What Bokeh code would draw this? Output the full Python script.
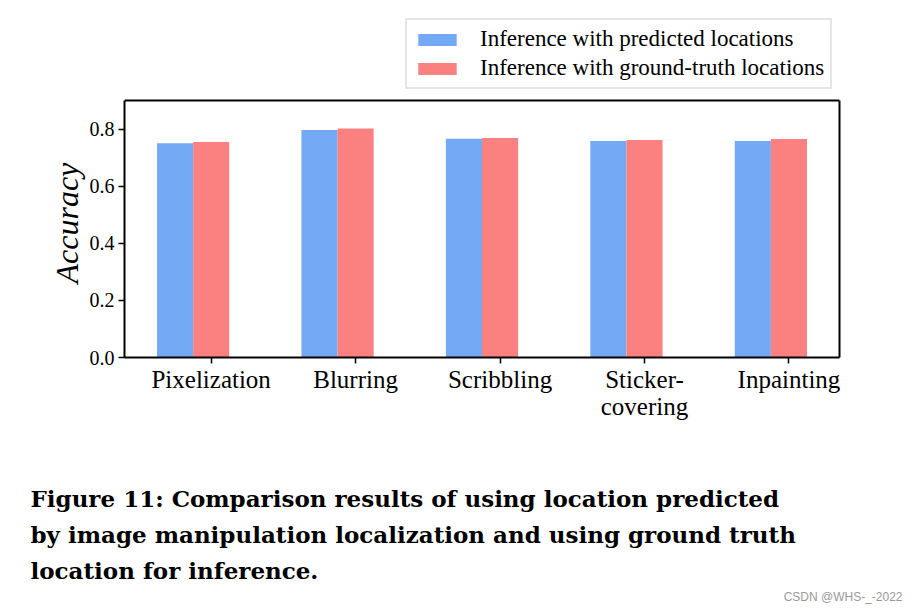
from bokeh.plotting import figure
from bokeh.models import (ColumnDataSource, Legend, LegendItem, FixedTicker, Range1d,
                          Title, LinearAxis, Span)
from bokeh.embed import file_html
from bokeh.resources import INLINE

categories = ["Pixelization", "Blurring", "Scribbling", "Sticker-\ncovering", "Inpainting"]
predicted = [0.750, 0.797, 0.766, 0.758, 0.758]
ground_truth = [0.755, 0.802, 0.769, 0.762, 0.765]
series_names = ["Inference with predicted locations", "Inference with ground-truth locations"]
y_ticks = [0.0, 0.2, 0.4, 0.6, 0.8]
y_label = "Accuracy"
caption_lines = [
    "Figure 11: Comparison results of using location predicted",
    "by image manipulation localization and using ground truth",
    "location for inference.",
]
watermark = "CSDN @WHS-_-2022"

BAR_W = 0.25
Y_MAX = 0.9          # top spine of the axes box
idx = list(range(len(categories)))
src = ColumnDataSource(dict(
    x_pred=[i - BAR_W for i in idx],
    x_gt=[float(i) for i in idx],
    pred=predicted,
    gt=ground_truth,
))

SERIF = "Liberation Serif"

# frame extends above the axes box so the legend (drawn inside the frame) is visible
FRAME_TOP, FRAME_BOTTOM, BOX_TOP = 14, 357, 100
y_top = Y_MAX * (FRAME_BOTTOM - FRAME_TOP) / (FRAME_BOTTOM - BOX_TOP)

p = figure(width=916, height=609, output_backend="svg", toolbar_location=None,
           x_range=Range1d(-0.6, 4.35), y_range=Range1d(0, y_top),
           min_border_left=124, min_border_right=77, min_border_top=FRAME_TOP,
           min_border_bottom=609 - FRAME_BOTTOM)
p.background_fill_color = "white"
p.border_fill_color = "white"
p.grid.visible = False
p.outline_line_color = None

r1 = p.vbar(x="x_pred", top="pred", width=BAR_W, source=src, fill_color="#74AAF5", line_color=None)
r2 = p.vbar(x="x_gt", top="gt", width=BAR_W, source=src, fill_color="#FB8181", line_color=None)

# axes box: left/bottom axes, an empty right axis and a top line
right_axis = LinearAxis(ticker=FixedTicker(ticks=[]))
p.add_layout(right_axis, "right")
p.xaxis.ticker = FixedTicker(ticks=idx)
p.xaxis.major_label_overrides = {i: c for i, c in enumerate(categories)}
yax = p.yaxis[0]
yax.ticker = FixedTicker(ticks=y_ticks)
yax.major_label_overrides = {t: f"{t:.1f}" for t in y_ticks}
for ax in (p.xaxis[0], yax, right_axis):
    ax.axis_line_color = "black"
    ax.axis_line_width = 2
    ax.major_tick_line_color = "black"
    ax.major_tick_line_width = 1.5
    ax.major_tick_out = 6
    ax.major_tick_in = 0
    ax.minor_tick_line_color = None
    ax.major_label_text_font = SERIF
    ax.major_label_text_color = "black"
yax.bounds = (0, Y_MAX)
right_axis.bounds = (0, Y_MAX)
right_axis.major_tick_line_color = None
p.add_layout(Span(location=Y_MAX, dimension="width", line_color="black", line_width=2))

p.xaxis.major_label_text_font_size = "25px"
p.xaxis.major_label_standoff = 2
p.xaxis.major_label_text_line_height = 1.0
yax.major_label_text_font_size = "20px"
yax.major_label_standoff = 4

# y axis title, centred on the axes box rather than on the taller frame
p.add_layout(Title(text=y_label, align="left", offset=74, standoff=3,
                   text_font=SERIF, text_font_style="italic", text_font_size="32px",
                   text_color="black"), "left")

legend = Legend(items=[LegendItem(label=series_names[0], renderers=[r1]),
                       LegendItem(label=series_names[1], renderers=[r2])],
                location=(281, FRAME_BOTTOM - 89))
legend.label_text_font = SERIF
legend.label_text_font_size = "23px"
legend.label_text_color = "black"
legend.glyph_width = 48
legend.glyph_height = 15
legend.label_height = 24
legend.label_standoff = 19
legend.spacing = 3
legend.padding = 6
legend.margin = 0
legend.border_line_color = "#cccccc"
legend.border_line_width = 2
legend.background_fill_color = "white"
legend.background_fill_alpha = 1
p.add_layout(legend)

# caption below the chart
p.add_layout(Title(text=" ", standoff=54, text_font_size="1px"), "below")
for line in caption_lines:
    p.add_layout(Title(text=line, align="left", offset=-94, standoff=7,
                       text_font="DejaVu Serif", text_font_style="bold", text_font_size="23px",
                       text_color="black"), "below")

p.add_layout(Title(text=watermark, align="right", offset=-63, standoff=0,
                   text_font="Liberation Sans", text_font_style="normal", text_font_size="12px",
                   text_color="#9a9a9a"), "below")

open("out.html", "w").write(file_html(p, INLINE))
